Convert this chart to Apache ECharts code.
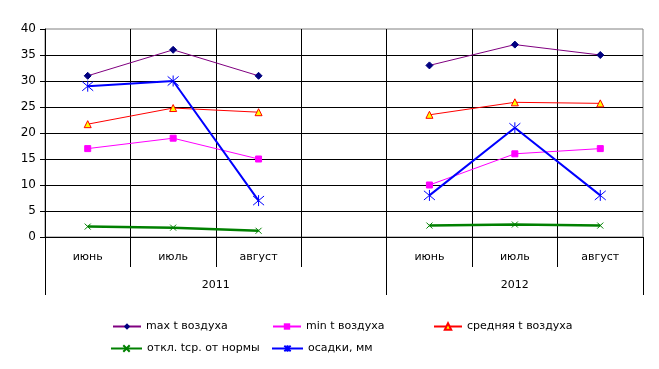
<!DOCTYPE html>
<html>
<head>
<meta charset="utf-8">
<script src="https://cdn.jsdelivr.net/npm/echarts@6/dist/echarts.min.js"></script>
<style>html,body{margin:0;padding:0;background:#fff}#c{width:659px;height:369px}</style>
</head>
<body>
<div id="c"></div>
<script>
const categories = ['июнь','июль','август','','июнь','июль','август'];
const yearLabels = ['','','','','2011','','','','','','','2012','','',''];
const seriesNames = ['max t воздуха','min t воздуха','средняя t воздуха','откл. tср. от нормы','осадки, мм'];
const maxT = [31, 36, 31, null, 33, 37, 35];
const minT = [17, 19, 15, null, 10, 16, 17];
const avgT = [21.7, 24.8, 24, null, 23.5, 25.9, 25.7];
const devT = [2, 1.8, 1.2, null, 2.2, 2.4, 2.2];
const precip = [29, 30, 7, null, 8, 21, 8];

const FONT = 'DejaVu Sans';
const chart = echarts.init(document.getElementById('c'));
const legendText = {color:'#000', fontFamily:FONT, fontSize:11};
const legendPos = [[107,316],[267,316],[428,316],[105,338],[266,338]];
chart.setOption({
  animation:false,
  backgroundColor:'#fff',
  grid:{left:45, right:16, top:29, bottom:132, show:true, borderColor:'#808080', borderWidth:1},
  legend:seriesNames.map(function(n,i){
    return {data:[n], left:legendPos[i][0], top:legendPos[i][1], itemWidth:i>=3?31:28, itemHeight:8, itemGap:0, textStyle:legendText};
  }),
  xAxis:[
    {type:'category', data:categories, boundaryGap:true,
     axisLine:{lineStyle:{color:'#000', width:1}},
     axisTick:{show:true, length:30, lineStyle:{color:'#000'}, interval:0},
     axisLabel:{interval:0, color:'#000', fontFamily:FONT, fontSize:11, margin:15},
     splitLine:{show:true, interval:0, showMaxLine:false, lineStyle:{color:'#000', width:1}}},
    {type:'category', data:yearLabels, boundaryGap:false, position:'bottom', offset:30,
     axisLine:{show:false},
     axisTick:{show:true, length:28, lineStyle:{color:'#000'}, interval:function(i){return i===0||i===8||i===14;}},
     axisLabel:{interval:0, color:'#000', fontFamily:FONT, fontSize:11, margin:13},
     splitLine:{show:false}}
  ],
  yAxis:{type:'value', min:0, max:40, interval:5,
    axisLine:{show:true, lineStyle:{color:'#000'}},
    axisTick:{show:true, length:5, lineStyle:{color:'#000'}},
    axisLabel:{color:'#000', fontFamily:FONT, fontSize:12, margin:9},
    splitLine:{show:true, showMaxLine:false, lineStyle:{color:'#000', width:1}}},
  series:[
    {name:seriesNames[0], type:'line', data:maxT, symbol:'diamond', symbolSize:7,
     lineStyle:{color:'#800080', width:1}, itemStyle:{color:'#000080', borderColor:'#000080'}},
    {name:seriesNames[1], type:'line', data:minT, symbol:'rect', symbolSize:6,
     lineStyle:{color:'#FF00FF', width:1}, itemStyle:{color:'#FF00FF', borderColor:'#FF00FF'}},
    {name:seriesNames[2], type:'line', data:avgT, symbol:'triangle', symbolSize:7,
     lineStyle:{color:'#FF0000', width:1}, itemStyle:{color:'#FFFF00', borderColor:'#FF0000', borderWidth:1}},
    {name:seriesNames[3], type:'line', data:devT, symbol:'path://M0,0L10,10M10,0L0,10', symbolSize:6,
     lineStyle:{color:'#008000', width:2.5}, itemStyle:{color:'#008000', borderColor:'#008000', borderWidth:1}},
    {name:seriesNames[4], type:'line', data:precip, symbol:'path://M0,0L10,10M10,0L0,10M5,-1L5,11', symbolSize:11,
     lineStyle:{color:'#0000FF', width:2}, itemStyle:{color:'#0000FF', borderColor:'#0000FF', borderWidth:1}}
  ]
});
</script>
</body>
</html>
